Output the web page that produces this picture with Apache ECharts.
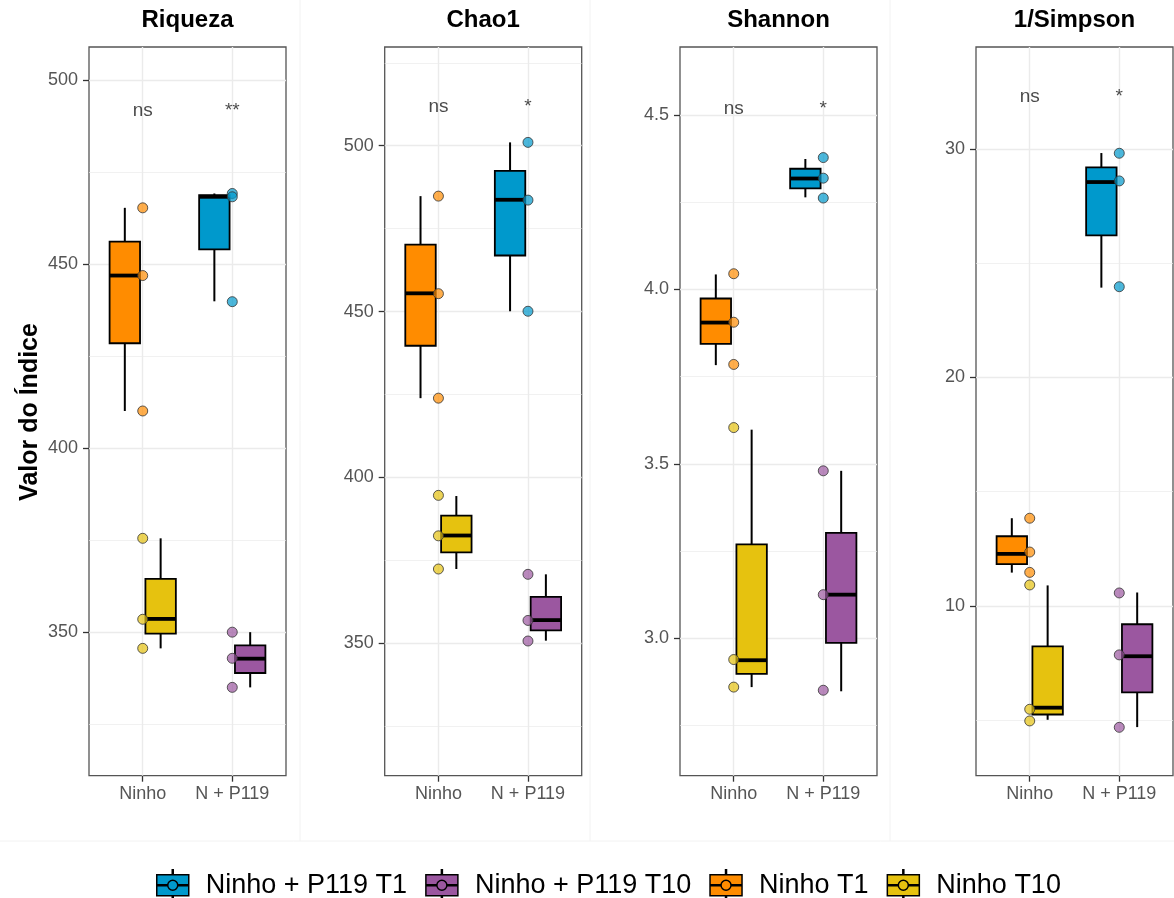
<!DOCTYPE html>
<html><head><meta charset="utf-8">
<script src="https://cdn.jsdelivr.net/npm/echarts@6/dist/echarts.min.js"></script>
<style>html,body{margin:0;padding:0;background:#fff}#c{width:1174px;height:898px}</style>
</head><body><div id="c"></div>
<script>
// ---------- DATA ----------
const panelTitles = ['Riqueza', 'Chao1', 'Shannon', '1/Simpson'];
const categories = ['Ninho', 'N + P119'];
const groups = ['Ninho + P119 T1', 'Ninho + P119 T10', 'Ninho T1', 'Ninho T10'];
const groupCategory = ['N + P119', 'N + P119', 'Ninho', 'Ninho'];
const groupTime = ['T1', 'T10', 'T1', 'T10'];
const yAxisTitle = 'Valor do Índice';

// box stats per group: [lower whisker, Q1, median, Q3, upper whisker]
const riquezaBoxes = [
  [439.9, 454.0, 468.3, 468.75, 469.2],
  [335.0, 338.9, 342.8, 346.4, 350.0],
  [410.1, 428.5, 446.9, 456.1, 465.3],
  [345.6, 349.6, 353.6, 364.5, 375.5]
];
const riquezaPoints = [
  [469.2, 468.3, 439.8],
  [350.0, 342.9, 335.0],
  [465.3, 446.9, 410.1],
  [375.5, 353.5, 345.6]
];
const chao1Boxes = [
  [450.1, 466.9, 483.7, 492.4, 501.0],
  [350.8, 353.9, 357.0, 364.0, 370.8],
  [423.9, 439.7, 455.5, 470.2, 484.8],
  [372.4, 377.4, 382.5, 388.5, 394.4]
];
const chao1Points = [
  [501.0, 483.6, 450.1],
  [370.8, 356.9, 350.7],
  [484.8, 455.4, 423.9],
  [394.6, 382.4, 372.4]
];
const shannonBoxes = [
  [4.264, 4.290, 4.318, 4.346, 4.374],
  [2.848, 2.987, 3.125, 3.302, 3.480],
  [3.783, 3.844, 3.905, 3.974, 4.043],
  [2.860, 2.898, 2.937, 3.269, 3.598]
];
const shannonPoints = [
  [4.378, 4.319, 4.262],
  [3.480, 3.125, 2.851],
  [4.045, 3.906, 3.785],
  [3.604, 2.939, 2.860]
];
const simpsonBoxes = [
  [23.93, 26.22, 28.55, 29.19, 29.82],
  [4.70, 6.22, 7.80, 9.20, 10.59],
  [11.46, 11.83, 12.28, 13.05, 13.84],
  [5.02, 5.25, 5.55, 8.23, 10.90]
];
const simpsonPoints = [
  [29.81, 28.60, 23.97],
  [10.57, 7.86, 4.69],
  [13.84, 12.36, 11.47],
  [10.92, 5.48, 4.97]
];

const yTicks = [[350, 400, 450, 500], [350, 400, 450, 500], [3.0, 3.5, 4.0, 4.5], [10, 20, 30]];
const yTickLabels = [['350', '400', '450', '500'], ['350', '400', '450', '500'], ['3.0', '3.5', '4.0', '4.5'], ['10', '20', '30']];
const yMinorTicks = [[325, 375, 425, 475], [325, 375, 425, 475, 525], [2.75, 3.25, 3.75, 4.25], [5, 15, 25]];
const yRanges = [[311, 509], [310.1, 529.75], [2.606, 4.695], [2.573, 34.46]];
const sigLabels = [['ns', '**'], ['ns', '*'], ['ns', '*'], ['ns', '*']]; // per category: Ninho, N + P119
const sigY = [491.6, 511.8, 4.519, 32.29];

const panelBoxes = [riquezaBoxes, chao1Boxes, shannonBoxes, simpsonBoxes];
const panelPoints = [riquezaPoints, chao1Points, shannonPoints, simpsonPoints];

// ---------- STYLE / LAYOUT ----------
const groupColors = ['#0099CC', '#9B57A0', '#FF8C00', '#E6C20F'];
const FONT = "'Liberation Sans', Arial, Helvetica, sans-serif";
const gridLefts = [89, 384.7, 680, 976];
const GRID_W = 197, GRID_TOP = 47, GRID_H = 728.7;
const BOX_W = 0.34, DODGE = 0.2;
const GRID_COLOR = '#EBEBEB';

function rgba(hex, a) {
  const n = parseInt(hex.slice(1), 16);
  return 'rgba(' + (n >> 16 & 255) + ',' + (n >> 8 & 255) + ',' + (n & 255) + ',' + a + ')';
}
function catPos(name) { return categories.indexOf(name) + 1; }

function boxRenderer(offset) {
  return function (params, api) {
    const x = api.value(0) + offset;
    const pMin = api.coord([x, api.value(1)]);
    const pQ1 = api.coord([x, api.value(2)]);
    const pMed = api.coord([x, api.value(3)]);
    const pQ3 = api.coord([x, api.value(4)]);
    const pMax = api.coord([x, api.value(5)]);
    const w = api.size([BOX_W, 0])[0];
    const cx = pMed[0];
    const color = api.visual('color');
    return {
      type: 'group', children: [
        { type: 'line', shape: { x1: cx, y1: pMax[1], x2: cx, y2: pQ3[1] }, style: { stroke: '#000', lineWidth: 2 } },
        { type: 'line', shape: { x1: cx, y1: pQ1[1], x2: cx, y2: pMin[1] }, style: { stroke: '#000', lineWidth: 2 } },
        { type: 'rect', shape: { x: cx - w / 2, y: pQ3[1], width: w, height: pQ1[1] - pQ3[1] }, style: { fill: color, stroke: '#000', lineWidth: 1.8 } },
        { type: 'line', shape: { x1: cx - w / 2, y1: pMed[1], x2: cx + w / 2, y2: pMed[1] }, style: { stroke: '#000', lineWidth: 3.8 } }
      ]
    };
  };
}

const grids = [], xAxes = [], yAxes = [], series = [], graphics = [];

panelTitles.forEach(function (title, i) {
  grids.push({ left: gridLefts[i], top: GRID_TOP, width: GRID_W, height: GRID_H, show: true,
    borderColor: '#555', borderWidth: 1.3, backgroundColor: '#fff' });
  xAxes.push({
    type: 'value', gridIndex: i, min: 0.4, max: 2.6,
    axisLine: { show: false },
    axisTick: { show: true, customValues: [1, 2], length: 6, lineStyle: { color: '#333', width: 1.3 } },
    axisLabel: { show: true, customValues: [1, 2], margin: 9, fontSize: 18, color: '#555', fontFamily: FONT,
      formatter: function (v) { return categories[Math.round(v) - 1]; } },
    splitLine: { show: false }
  });
  yAxes.push({
    type: 'value', gridIndex: i, min: yRanges[i][0], max: yRanges[i][1],
    axisLine: { show: false },
    axisTick: { show: true, customValues: yTicks[i], length: 6, lineStyle: { color: '#333', width: 1.3 } },
    axisLabel: { show: true, customValues: yTicks[i], margin: 11, fontSize: 18, color: '#555', fontFamily: FONT,
      formatter: function (v) {
        const k = yTicks[i].findIndex(function (t) { return Math.abs(t - v) < 1e-9; });
        return k >= 0 ? yTickLabels[i][k] : '';
      } },
    splitLine: { show: false }
  });

  // gridlines
  const ml = [];
  yMinorTicks[i].forEach(function (v) { ml.push({ yAxis: v, lineStyle: { color: GRID_COLOR, width: 0.7, type: 'solid' } }); });
  yTicks[i].forEach(function (v) { ml.push({ yAxis: v, lineStyle: { color: GRID_COLOR, width: 1.4, type: 'solid' } }); });
  categories.forEach(function (c) { ml.push({ xAxis: catPos(c), lineStyle: { color: GRID_COLOR, width: 1.4, type: 'solid' } }); });
  series.push({
    type: 'line', xAxisIndex: i, yAxisIndex: i, data: [], z: 1, silent: true, animation: false,
    markLine: { z: 1, silent: true, animation: false, symbol: ['none', 'none'], label: { show: false }, data: ml }
  });

  // boxes
  groups.forEach(function (g, k) {
    const st = panelBoxes[i][k];
    series.push({
      type: 'custom', name: g, xAxisIndex: i, yAxisIndex: i, z: 3, animation: false,
      itemStyle: { color: groupColors[k] },
      renderItem: boxRenderer(groupTime[k] === 'T1' ? -DODGE : DODGE),
      encode: { x: 0, y: [1, 2, 3, 4, 5] },
      data: [[catPos(groupCategory[k])].concat(st)]
    });
  });
  // points
  groups.forEach(function (g, k) {
    series.push({
      type: 'scatter', name: g, xAxisIndex: i, yAxisIndex: i, z: 4, animation: false,
      symbol: 'circle', symbolSize: 10,
      itemStyle: { color: rgba(groupColors[k], 0.88), borderColor: '#333', borderWidth: 1 },
      data: panelPoints[i][k].map(function (v) { return [catPos(groupCategory[k]), v]; })
    });
  });
  // significance labels
  series.push({
    type: 'scatter', xAxisIndex: i, yAxisIndex: i, z: 5, animation: false, silent: true,
    symbol: 'circle', symbolSize: 1, itemStyle: { color: 'rgba(0,0,0,0)' },
    label: { show: true, position: 'inside', fontSize: 19, color: '#1a1a1a', fontFamily: FONT,
      formatter: function (p) { return p.value[2]; } },
    data: categories.map(function (c, j) { return [catPos(c), sigY[i], sigLabels[i][j]]; })
  });

  graphics.push({
    type: 'text', x: gridLefts[i] + GRID_W / 2, y: 20, silent: true,
    style: { text: title, font: 'bold 24px ' + FONT, fill: '#000', align: 'center', verticalAlign: 'middle',
      textAlign: 'center', textVerticalAlign: 'middle' }
  });
});

// faint panel separators
[300, 590, 890].forEach(function (x) {
  graphics.push({ type: 'line', silent: true, z: -1, shape: { x1: x, y1: 0, x2: x, y2: 841 }, style: { stroke: '#F2F2F2', lineWidth: 1 } });
});
graphics.push({ type: 'line', silent: true, z: -1, shape: { x1: 0, y1: 841, x2: 1174, y2: 841 }, style: { stroke: '#F2F2F2', lineWidth: 1 } });

graphics.push({
  type: 'text', x: 30, y: 412, rotation: Math.PI / 2, silent: true,
  style: { text: yAxisTitle, font: 'bold 25px ' + FONT, fill: '#000', align: 'center', verticalAlign: 'middle',
    textAlign: 'center', textVerticalAlign: 'middle' }
});

const legendIcon = 'path://M15.5,0 L16.5,0 L16.5,5 L15.5,5 Z M0,5 L32,5 L32,26 L0,26 Z M15.5,26 L16.5,26 L16.5,31 L15.5,31 Z ' +
  'M0,15 L10.5,15 L10.5,16 L0,16 Z M21.5,15 L32,15 L32,16 L21.5,16 Z ' +
  'M16,10.5 A5,5 0 1,1 15.99,10.5 Z';

const option = {
  backgroundColor: '#fff',
  animation: false,
  textStyle: { fontFamily: FONT },
  grid: grids, xAxis: xAxes, yAxis: yAxes, series: series, graphic: graphics,
  legend: {
    left: 151, top: 864, itemWidth: 32, itemHeight: 31, itemGap: 18,
    selectedMode: false,
    textStyle: { fontSize: 27, color: '#000', fontFamily: FONT, padding: [0, 0, 0, 12] },
    data: groups.map(function (g, k) {
      return { name: g, icon: legendIcon, itemStyle: { color: groupColors[k], borderColor: '#000', borderWidth: 1.5 } };
    })
  }
};

const chart = echarts.init(document.getElementById('c'), null, { renderer: 'canvas' });
chart.setOption(option);
</script></body></html>
